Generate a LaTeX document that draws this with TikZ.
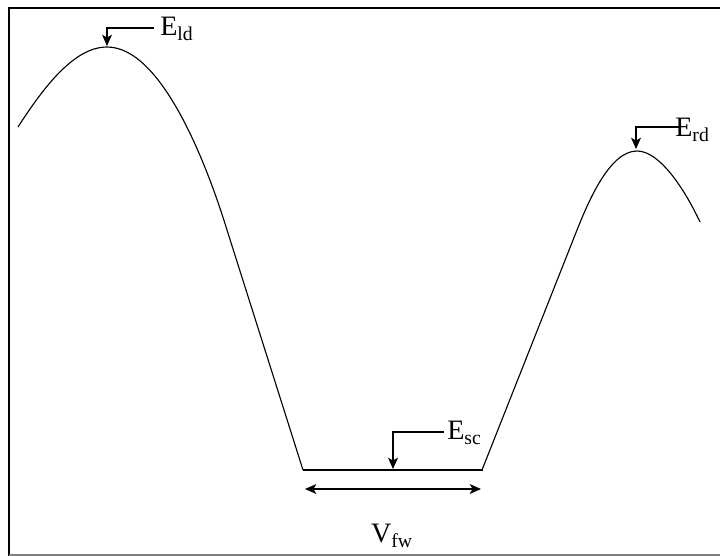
\documentclass[tikz,border=0pt]{standalone}
\usepackage{fontspec}
\setmainfont{Liberation Serif}
\usetikzlibrary{arrows.meta}
\tikzset{
	lbl/.style={anchor=west, inner sep=0pt, font=\fontsize{20}{24}\selectfont},
	tip/.style={-{Stealth[length=8pt, width=7pt, inset=2pt]}, line width=1pt},
	well/.style={line width=0.8pt}
}
\begin{document}
\begin{tikzpicture}[x=0.025cm, y=-0.025cm]
		\useasboundingbox (0, 0) rectangle (720, 556);
		\draw[line width=2pt] (720, 8) -- (9, 8) -- (9, 556);
		\draw[line width=1pt, gray] (9, 555) -- (720, 555);
		\draw[well] (18, 127) .. controls (45, 85) and (75, 47) .. (107, 47) .. controls (162, 47) and (207, 165) .. (227, 230) -- (303, 470);
		\draw[line width=1.3pt] (303, 470) -- (483, 470);
		\draw[well] (482, 470) -- (577, 230) .. controls (589, 200) and (610, 151) .. (637, 151) .. controls (660, 151) and (685, 190) .. (700, 222);
		\coordinate (ldpeak) at (107, 46);
		\coordinate (rdpeak) at (636, 149);
		\coordinate (scmid) at (393, 469);
		\coordinate (fwleft) at (305, 489);
		\coordinate (fwright) at (481, 489);
		\node[lbl] (Eld) at (160, 29) {E\textsubscript{ld}};
		\node[lbl] (Erd) at (675, 130) {E\textsubscript{rd}};
		\node[lbl] (Esc) at (447, 433) {E\textsubscript{sc}};
		\node[font=\fontsize{20}{24}\selectfont, inner sep=0pt] (Vfw) at (392, 536) {V\textsubscript{fw}};
		\draw[tip] (Eld.west) ++(-6, -1) -| (ldpeak);
		\draw[tip] ([xshift=3pt]Erd.west) ++(0, -3) -| (rdpeak);
		\draw[tip] (Esc.west) ++(-3, -1) -| (scmid);
		\draw[{Stealth[length=8pt, width=7pt, inset=2pt]}-{Stealth[length=8pt, width=7pt, inset=2pt]}, line width=1pt] (fwleft) -- (fwright);
	\end{tikzpicture}
\end{document}
